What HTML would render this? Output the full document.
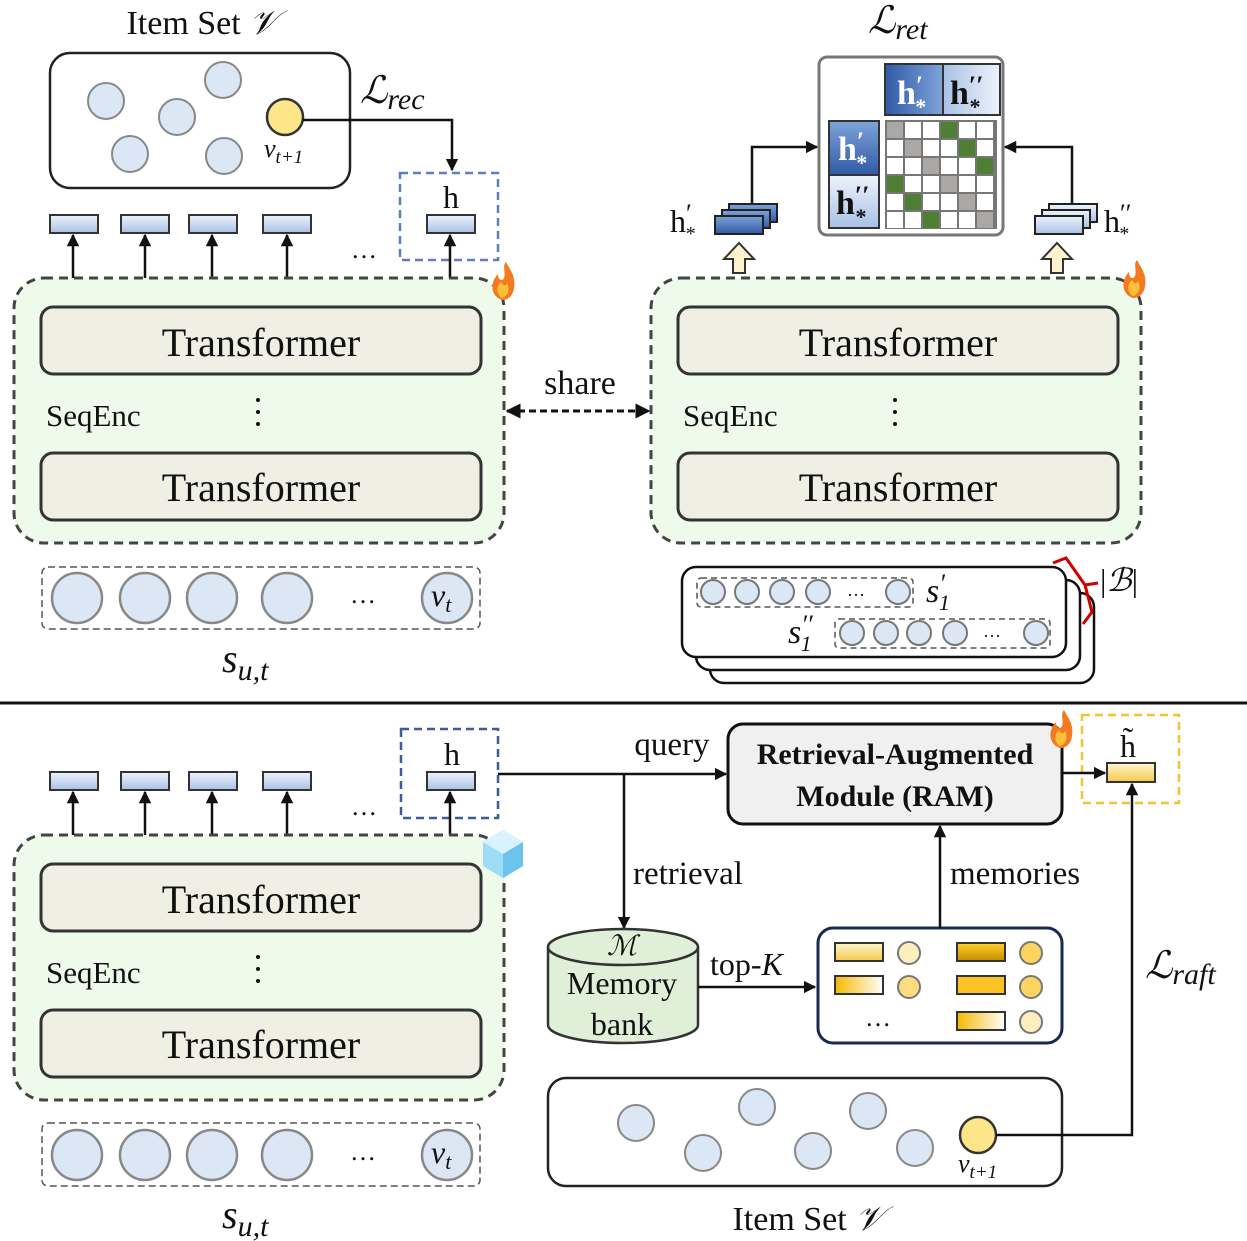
<!DOCTYPE html>
<html><head><meta charset="utf-8"><style>html,body{margin:0;padding:0;background:#fff}svg{display:block}text{font-family:"Liberation Serif",serif;fill:#111}</style></head><body>
<svg width="1247" height="1241" viewBox="0 0 1247 1241" xmlns="http://www.w3.org/2000/svg">
<defs>
<marker id="ar" viewBox="0 0 10 10" refX="9" refY="5" markerWidth="5" markerHeight="5" orient="auto-start-reverse"><path d="M0,0L10,5L0,10z" fill="#111"/></marker>
<linearGradient id="bl" x1="0" y1="0" x2="0" y2="1"><stop offset="0" stop-color="#7fa3d9"/><stop offset="1" stop-color="#2f5aa6"/></linearGradient>
<linearGradient id="lb" x1="0" y1="0" x2="0" y2="1"><stop offset="0" stop-color="#eef3fb"/><stop offset="1" stop-color="#a9c1e6"/></linearGradient>
<linearGradient id="hb" x1="0" y1="0" x2="1" y2="0"><stop offset="0" stop-color="#2f5aa6"/><stop offset="1" stop-color="#7fa3d9"/></linearGradient>
<linearGradient id="hl" x1="0" y1="0" x2="1" y2="0"><stop offset="0" stop-color="#a9c1e6"/><stop offset="1" stop-color="#eef3fb"/></linearGradient>
<linearGradient id="yl" x1="0" y1="0" x2="0" y2="1"><stop offset="0" stop-color="#fff6d0"/><stop offset="1" stop-color="#f6c94a"/></linearGradient>
<linearGradient id="yd" x1="0" y1="0" x2="0" y2="1"><stop offset="0" stop-color="#ffd02a"/><stop offset="1" stop-color="#c58c00"/></linearGradient>
<linearGradient id="yw" x1="0" y1="0" x2="1" y2="0"><stop offset="0" stop-color="#f5b800"/><stop offset="1" stop-color="#fff"/></linearGradient>
<g id="flame"><path d="M0,18 C-12,14 -12,0 -4,-8 C-4,-2 0,0 2,-4 C4,-10 0,-16 4,-20 C8,-12 14,-6 12,6 C11,14 6,18 0,18z" fill="#f47a20"/><path d="M0,16 C-6,12 -6,4 -1,0 C1,4 4,4 5,1 C8,6 7,14 0,16z" fill="#fbc03a"/></g>
</defs>

<!-- TOP LEFT -->
<text x="202" y="34" font-size="34" text-anchor="middle">Item Set <tspan font-style="italic">𝒱</tspan></text>
<rect x="50" y="53" width="300" height="135" rx="20" fill="#fff" stroke="#222" stroke-width="2.5"/>
<g fill="#dbe7f5" stroke="#888" stroke-width="2"><circle cx="106" cy="101" r="18"/><circle cx="223" cy="80" r="18"/><circle cx="177" cy="117" r="18"/><circle cx="130" cy="154" r="18"/><circle cx="224" cy="156" r="18"/></g>
<circle cx="285" cy="117" r="18" fill="#fde58a" stroke="#333" stroke-width="2.5"/>
<text x="264" y="157" font-size="26" font-style="italic">v<tspan font-size="19" dy="6">t+1</tspan></text>
<polyline points="303,120 452,120 452,170" fill="none" stroke="#111" stroke-width="2.5" marker-end="url(#ar)"/>
<text x="360" y="103" font-size="38" font-style="italic">ℒ<tspan font-size="30" dy="6">rec</tspan></text>
<rect x="400" y="173" width="98" height="87" fill="none" stroke="#5b7fc2" stroke-width="2.5" stroke-dasharray="8,5"/>
<text x="451" y="208" font-size="32" text-anchor="middle">h</text>
<g fill="url(#lb)" stroke="#333" stroke-width="2"><rect x="50" y="215" width="48" height="18"/><rect x="121" y="215" width="48" height="18"/><rect x="189" y="215" width="48" height="18"/><rect x="263" y="215" width="48" height="18"/><rect x="427" y="215" width="48" height="18"/></g>
<g stroke="#111" stroke-width="2.5" marker-end="url(#ar)"><line x1="73" y1="278" x2="73" y2="235"/><line x1="145" y1="278" x2="145" y2="235"/><line x1="212" y1="278" x2="212" y2="235"/><line x1="287" y1="278" x2="287" y2="235"/><line x1="450" y1="278" x2="450" y2="235"/></g>
<text x="364" y="258" font-size="26" text-anchor="middle">…</text>
<rect x="14" y="278" width="490" height="265" rx="30" fill="#eefbea" stroke="#444" stroke-width="3" stroke-dasharray="9,6"/>
<rect x="41" y="307" width="440" height="67" rx="12" fill="#efefe3" stroke="#333" stroke-width="3"/>
<rect x="41" y="453" width="440" height="67" rx="12" fill="#efefe3" stroke="#333" stroke-width="3"/>
<text x="261" y="356" font-size="40" text-anchor="middle">Transformer</text>
<text x="261" y="501" font-size="40" text-anchor="middle">Transformer</text>
<text x="46" y="426" font-size="31">SeqEnc</text>
<g fill="#111"><circle cx="258" cy="400" r="2"/><circle cx="258" cy="412" r="2"/><circle cx="258" cy="424" r="2"/></g>
<use href="#flame" x="502" y="282"/>
<rect x="42" y="567" width="438" height="62" rx="6" fill="none" stroke="#555" stroke-width="1.5" stroke-dasharray="7,4"/>
<g fill="#dbe7f5" stroke="#888" stroke-width="2.5"><circle cx="77" cy="598" r="25"/><circle cx="145" cy="598" r="25"/><circle cx="212" cy="598" r="25"/><circle cx="287" cy="598" r="25"/><circle cx="447" cy="598" r="25"/></g>
<text x="363" y="603" font-size="26" text-anchor="middle">…</text>
<text x="431" y="606" font-size="32" font-style="italic">v<tspan font-size="22" dy="6">t</tspan></text>
<text x="222" y="672" font-size="40" font-style="italic">s<tspan font-size="30" dy="8">u,t</tspan></text>

<!-- share -->
<text x="580" y="394" font-size="34" text-anchor="middle">share</text>
<line x1="507" y1="411" x2="649" y2="411" stroke="#111" stroke-width="3" stroke-dasharray="7,4" marker-start="url(#ar)" marker-end="url(#ar)"/>

<!-- TOP RIGHT -->
<rect x="651" y="278" width="490" height="265" rx="30" fill="#eefbea" stroke="#444" stroke-width="3" stroke-dasharray="9,6"/>
<rect x="678" y="307" width="440" height="67" rx="12" fill="#efefe3" stroke="#333" stroke-width="3"/>
<rect x="678" y="453" width="440" height="67" rx="12" fill="#efefe3" stroke="#333" stroke-width="3"/>
<text x="898" y="356" font-size="40" text-anchor="middle">Transformer</text>
<text x="898" y="501" font-size="40" text-anchor="middle">Transformer</text>
<text x="683" y="426" font-size="31">SeqEnc</text>
<g fill="#111"><circle cx="895" cy="400" r="2"/><circle cx="895" cy="412" r="2"/><circle cx="895" cy="424" r="2"/></g>
<use href="#flame" x="1133" y="280"/>
<text x="868" y="33" font-size="38" font-style="italic">ℒ<tspan font-size="30" dy="6">ret</tspan></text>
<rect x="819" y="57" width="184" height="178" rx="8" fill="#fff" stroke="#777" stroke-width="3"/>
<rect x="885" y="64" width="58" height="51" fill="url(#hb)" stroke="#333" stroke-width="2"/>
<rect x="943" y="64" width="57" height="51" fill="url(#hl)" stroke="#333" stroke-width="2"/>
<rect x="829" y="121" width="50" height="54" fill="url(#bl)" stroke="#333" stroke-width="2"/>
<rect x="829" y="175" width="50" height="53" fill="url(#lb)" stroke="#333" stroke-width="2"/>
<text x="897" y="104" font-size="34" font-weight="bold" style="fill:#fff">h<tspan font-size="26" dy="-10">′</tspan><tspan font-size="22" dx="-8" dy="20">*</tspan></text>
<text x="950" y="104" font-size="34" font-weight="bold">h<tspan font-size="26" dy="-10">′′</tspan><tspan font-size="22" dx="-14" dy="20">*</tspan></text>
<text x="838" y="160" font-size="34" font-weight="bold" style="fill:#fff">h<tspan font-size="26" dy="-10">′</tspan><tspan font-size="22" dx="-8" dy="20">*</tspan></text>
<text x="836" y="214" font-size="34" font-weight="bold">h<tspan font-size="26" dy="-10">′′</tspan><tspan font-size="22" dx="-14" dy="20">*</tspan></text>
<rect x="885" y="120" width="112" height="109" fill="#777"/>
<g fill="#fff">
<rect x="887" y="122" width="16" height="16"/><rect x="905" y="122" width="16" height="16"/><rect x="923" y="122" width="16" height="16"/><rect x="941" y="122" width="16" height="16"/><rect x="959" y="122" width="16" height="16"/><rect x="977" y="122" width="16" height="16"/>
<rect x="887" y="140" width="16" height="16"/><rect x="905" y="140" width="16" height="16"/><rect x="923" y="140" width="16" height="16"/><rect x="941" y="140" width="16" height="16"/><rect x="959" y="140" width="16" height="16"/><rect x="977" y="140" width="16" height="16"/>
<rect x="887" y="158" width="16" height="16"/><rect x="905" y="158" width="16" height="16"/><rect x="923" y="158" width="16" height="16"/><rect x="941" y="158" width="16" height="16"/><rect x="959" y="158" width="16" height="16"/><rect x="977" y="158" width="16" height="16"/>
<rect x="887" y="176" width="16" height="16"/><rect x="905" y="176" width="16" height="16"/><rect x="923" y="176" width="16" height="16"/><rect x="941" y="176" width="16" height="16"/><rect x="959" y="176" width="16" height="16"/><rect x="977" y="176" width="16" height="16"/>
<rect x="887" y="194" width="16" height="16"/><rect x="905" y="194" width="16" height="16"/><rect x="923" y="194" width="16" height="16"/><rect x="941" y="194" width="16" height="16"/><rect x="959" y="194" width="16" height="16"/><rect x="977" y="194" width="16" height="16"/>
<rect x="887" y="212" width="16" height="16"/><rect x="905" y="212" width="16" height="16"/><rect x="923" y="212" width="16" height="16"/><rect x="941" y="212" width="16" height="16"/><rect x="959" y="212" width="16" height="16"/><rect x="977" y="212" width="16" height="16"/>
</g>
<g fill="#aaa7a5"><rect x="887" y="122" width="16" height="16"/><rect x="905" y="140" width="16" height="16"/><rect x="923" y="158" width="16" height="16"/><rect x="941" y="176" width="16" height="16"/><rect x="959" y="194" width="16" height="16"/><rect x="977" y="212" width="16" height="16"/></g>
<g fill="#4e7f35"><rect x="941" y="122" width="16" height="16"/><rect x="959" y="140" width="16" height="16"/><rect x="977" y="158" width="16" height="16"/><rect x="887" y="176" width="16" height="16"/><rect x="905" y="194" width="16" height="16"/><rect x="923" y="212" width="16" height="16"/></g>
<!-- h' stack -->
<g stroke="#222" stroke-width="2" fill="url(#bl)"><rect x="729" y="204" width="48" height="18"/><rect x="722" y="210" width="48" height="18"/><rect x="715" y="216" width="48" height="18"/></g>
<text x="670" y="232" font-size="32">h<tspan font-size="26" dy="-10">′</tspan><tspan font-size="20" dx="-6" dy="18">*</tspan></text>
<polyline points="752,204 752,147 817,147" fill="none" stroke="#111" stroke-width="2.5" marker-end="url(#ar)"/>
<g stroke="#222" stroke-width="2" fill="url(#lb)"><rect x="1049" y="204" width="48" height="18"/><rect x="1042" y="210" width="48" height="18"/><rect x="1035" y="216" width="48" height="18"/></g>
<text x="1104" y="232" font-size="32">h<tspan font-size="26" dy="-10">′′</tspan><tspan font-size="20" dx="-12" dy="18">*</tspan></text>
<polyline points="1072,204 1072,147 1005,147" fill="none" stroke="#111" stroke-width="2.5" marker-end="url(#ar)"/>
<path d="M733,273 V259 H724 L739,243 L754,259 H745 V273z" fill="#fff3cf" stroke="#333" stroke-width="2"/>
<path d="M1051,273 V259 H1042 L1057,243 L1072,259 H1063 V273z" fill="#fff3cf" stroke="#333" stroke-width="2"/>

<!-- batch -->
<rect x="710" y="593" width="384" height="90" rx="14" fill="#fff" stroke="#111" stroke-width="2.5"/>
<rect x="696" y="580" width="384" height="90" rx="14" fill="#fff" stroke="#111" stroke-width="2.5"/>
<rect x="682" y="567" width="384" height="90" rx="14" fill="#fff" stroke="#111" stroke-width="2.5"/>
<rect x="697" y="578" width="216" height="29" rx="4" fill="none" stroke="#555" stroke-width="1.5" stroke-dasharray="6,4"/>
<rect x="835" y="619" width="215" height="29" rx="4" fill="none" stroke="#555" stroke-width="1.5" stroke-dasharray="6,4"/>
<g fill="#dbe7f5" stroke="#777" stroke-width="2"><circle cx="713" cy="592" r="12"/><circle cx="747" cy="592" r="12"/><circle cx="782" cy="592" r="12"/><circle cx="818" cy="592" r="12"/><circle cx="898" cy="592" r="12"/><circle cx="852" cy="633" r="12"/><circle cx="886" cy="633" r="12"/><circle cx="919" cy="633" r="12"/><circle cx="955" cy="633" r="12"/><circle cx="1036" cy="633" r="12"/></g>
<text x="856" y="596" font-size="18" text-anchor="middle">…</text>
<text x="992" y="637" font-size="18" text-anchor="middle">…</text>
<text x="926" y="602" font-size="34" font-style="italic">s<tspan font-size="26" dy="-10">′</tspan><tspan font-size="22" dx="-6" dy="18">1</tspan></text>
<text x="788" y="643" font-size="34" font-style="italic">s<tspan font-size="26" dy="-10">′′</tspan><tspan font-size="22" dx="-12" dy="18">1</tspan></text>
<path d="M1053,563 L1066,558 L1085,585 L1098,583 M1085,585 L1092,612 L1083,624" fill="none" stroke="#c00" stroke-width="3"/>
<text x="1100" y="591" font-size="32">|<tspan font-style="italic">ℬ</tspan>|</text>

<line x1="0" y1="703" x2="1247" y2="703" stroke="#111" stroke-width="3"/>

<!-- BOTTOM LEFT -->
<rect x="401" y="729" width="97" height="89" fill="none" stroke="#3b5d9c" stroke-width="2.5" stroke-dasharray="8,5"/>
<text x="452" y="765" font-size="32" text-anchor="middle">h</text>
<g fill="url(#lb)" stroke="#333" stroke-width="2"><rect x="50" y="772" width="48" height="18"/><rect x="121" y="772" width="48" height="18"/><rect x="189" y="772" width="48" height="18"/><rect x="263" y="772" width="48" height="18"/><rect x="427" y="772" width="48" height="18"/></g>
<g stroke="#111" stroke-width="2.5" marker-end="url(#ar)"><line x1="73" y1="835" x2="73" y2="792"/><line x1="145" y1="835" x2="145" y2="792"/><line x1="212" y1="835" x2="212" y2="792"/><line x1="287" y1="835" x2="287" y2="792"/><line x1="450" y1="835" x2="450" y2="792"/></g>
<text x="364" y="815" font-size="26" text-anchor="middle">…</text>
<rect x="14" y="835" width="490" height="265" rx="30" fill="#eefbea" stroke="#444" stroke-width="3" stroke-dasharray="9,6"/>
<rect x="41" y="864" width="440" height="67" rx="12" fill="#efefe3" stroke="#333" stroke-width="3"/>
<rect x="41" y="1010" width="440" height="67" rx="12" fill="#efefe3" stroke="#333" stroke-width="3"/>
<text x="261" y="913" font-size="40" text-anchor="middle">Transformer</text>
<text x="261" y="1058" font-size="40" text-anchor="middle">Transformer</text>
<text x="46" y="983" font-size="31">SeqEnc</text>
<g fill="#111"><circle cx="258" cy="957" r="2"/><circle cx="258" cy="969" r="2"/><circle cx="258" cy="981" r="2"/></g>
<g transform="translate(503,852)"><path d="M-20,-10 L0,-22 L20,-10 L20,14 L0,26 L-20,14z" fill="#9fdcf6"/><path d="M-20,-10 L0,2 L20,-10 L0,-22z" fill="#d8f3fd"/><path d="M0,2 L20,-10 L20,14 L0,26z" fill="#6cc4ec"/></g>
<rect x="42" y="1123" width="438" height="63" rx="6" fill="none" stroke="#555" stroke-width="1.5" stroke-dasharray="7,4"/>
<g fill="#dbe7f5" stroke="#888" stroke-width="2.5"><circle cx="77" cy="1155" r="25"/><circle cx="145" cy="1155" r="25"/><circle cx="212" cy="1155" r="25"/><circle cx="287" cy="1155" r="25"/><circle cx="447" cy="1155" r="25"/></g>
<text x="363" y="1160" font-size="26" text-anchor="middle">…</text>
<text x="431" y="1163" font-size="32" font-style="italic">v<tspan font-size="22" dy="6">t</tspan></text>
<text x="222" y="1228" font-size="40" font-style="italic">s<tspan font-size="30" dy="8">u,t</tspan></text>

<!-- BOTTOM RIGHT -->
<line x1="498" y1="774" x2="726" y2="774" stroke="#111" stroke-width="2.5" marker-end="url(#ar)"/>
<text x="672" y="755" font-size="33" text-anchor="middle">query</text>
<line x1="624" y1="774" x2="624" y2="928" stroke="#111" stroke-width="2.5" marker-end="url(#ar)"/>
<text x="633" y="884" font-size="33">retrieval</text>
<rect x="728" y="724" width="334" height="100" rx="15" fill="#f0f0f0" stroke="#111" stroke-width="3"/>
<text x="895" y="764" font-size="30" font-weight="bold" text-anchor="middle">Retrieval-Augmented</text>
<text x="895" y="806" font-size="30" font-weight="bold" text-anchor="middle">Module (RAM)</text>
<use href="#flame" x="1060" y="730"/>
<rect x="1082" y="715" width="97" height="88" fill="none" stroke="#f4c430" stroke-width="2.5" stroke-dasharray="8,5"/>
<line x1="1062" y1="773" x2="1105" y2="773" stroke="#111" stroke-width="2.5" marker-end="url(#ar)"/>
<rect x="1107" y="763" width="48" height="19" fill="url(#yl)" stroke="#333" stroke-width="2"/>
<text x="1128" y="757" font-size="32" text-anchor="middle">h̃</text>
<!-- cylinder -->
<path d="M548,947 V1025 A75,18 0 0 0 698,1025 V947" fill="#e0efd8" stroke="#333" stroke-width="2.5"/>
<ellipse cx="623" cy="947" rx="75" ry="18" fill="#e0efd8" stroke="#333" stroke-width="2.5"/>
<text x="622" y="955" font-size="28" font-style="italic" text-anchor="middle">ℳ</text>
<text x="622" y="994" font-size="32" text-anchor="middle">Memory</text>
<text x="622" y="1035" font-size="32" text-anchor="middle">bank</text>
<line x1="698" y1="987" x2="815" y2="987" stroke="#111" stroke-width="2.5" marker-end="url(#ar)"/>
<text x="710" y="975" font-size="32">top-<tspan font-style="italic">K</tspan></text>
<rect x="818" y="928" width="244" height="115" rx="15" fill="#fff" stroke="#1a2a50" stroke-width="3"/>
<rect x="835" y="943" width="48" height="18" fill="url(#yl)" stroke="#333" stroke-width="2"/>
<rect x="835" y="976" width="48" height="18" fill="url(#yw)" stroke="#333" stroke-width="2"/>
<rect x="957" y="943" width="48" height="18" fill="url(#yd)" stroke="#333" stroke-width="2"/>
<rect x="957" y="976" width="48" height="18" fill="#fbc324" stroke="#333" stroke-width="2"/>
<rect x="957" y="1012" width="48" height="18" fill="url(#yw)" stroke="#333" stroke-width="2"/>
<g stroke="#777" stroke-width="2"><circle cx="909" cy="953" r="11" fill="#fdeec0"/><circle cx="909" cy="987" r="11" fill="#fbdd80"/><circle cx="1031" cy="953" r="11" fill="#fbd560"/><circle cx="1031" cy="987" r="11" fill="#fbd560"/><circle cx="1031" cy="1022" r="11" fill="#fdeec0"/></g>
<text x="878" y="1026" font-size="26" text-anchor="middle">…</text>
<line x1="940" y1="928" x2="940" y2="826" stroke="#111" stroke-width="2.5" marker-end="url(#ar)"/>
<text x="950" y="884" font-size="33">memories</text>
<text x="1145" y="978" font-size="38" font-style="italic">ℒ<tspan font-size="30" dy="6">raft</tspan></text>
<rect x="548" y="1078" width="514" height="108" rx="18" fill="#fff" stroke="#222" stroke-width="2.5"/>
<g fill="#dbe7f5" stroke="#888" stroke-width="2"><circle cx="636" cy="1123" r="18"/><circle cx="757" cy="1107" r="18"/><circle cx="703" cy="1153" r="18"/><circle cx="868" cy="1111" r="18"/><circle cx="813" cy="1151" r="18"/><circle cx="915" cy="1148" r="18"/></g>
<circle cx="978" cy="1135" r="18" fill="#fde58a" stroke="#333" stroke-width="2.5"/>
<text x="958" y="1172" font-size="26" font-style="italic">v<tspan font-size="19" dy="6">t+1</tspan></text>
<polyline points="996,1135 1132,1135 1132,784" fill="none" stroke="#111" stroke-width="2.5" marker-end="url(#ar)"/>
<text x="808" y="1230" font-size="34" text-anchor="middle">Item Set <tspan font-style="italic">𝒱</tspan></text>
</svg>
</body></html>
